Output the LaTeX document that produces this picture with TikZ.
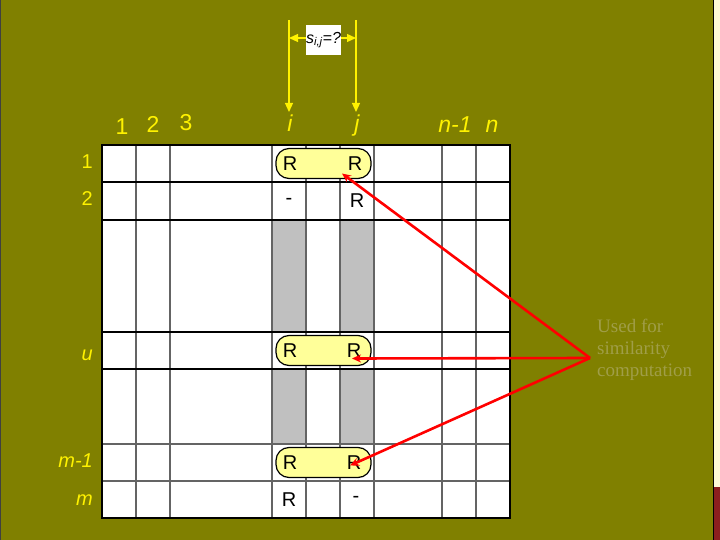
\documentclass[tikz,border=0pt]{standalone}
\usepackage{fontspec}
\setmainfont{Liberation Serif}
\newfontfamily\arial{Liberation Sans}
\usetikzlibrary{arrows.meta}
\definecolor{olivebg}{RGB}{128,128,0}
\definecolor{lightstrip}{RGB}{255,251,214}
\definecolor{darkred}{RGB}{140,30,30}
\definecolor{grayfill}{RGB}{192,192,192}
\definecolor{hlyellow}{RGB}{255,255,153}
\definecolor{dimtext}{RGB}{160,158,72}
\definecolor{gridgray}{RGB}{100,100,100}
\tikzset{
  toplab/.style={text=yellow, font=\arial\fontsize{23}{23}\selectfont, anchor=base, inner sep=0},
  leftlab/.style={text=yellow, font=\arial\fontsize{20}{20}\selectfont, anchor=base east, inner sep=0},
  cell/.style={text=black, font=\arial\fontsize{20}{20}\selectfont, inner sep=0},
  hlbox/.style={draw=black, line width=1.2pt, fill=hlyellow, rounded corners=13pt, minimum width=95pt, minimum height=30pt, inner sep=0},
  redarrow/.style={draw=red, line width=2.6pt, -{Stealth[length=9pt,width=8pt]}},
  yelarrow/.style={draw=yellow, line width=1.2pt, -{Triangle[length=9pt,width=8pt]}},
  blackline/.style={draw=black, line width=1.4pt},
  grayline/.style={draw=gridgray, line width=1.3pt},
}
\begin{document}
\begin{tikzpicture}[x=1pt,y=-1pt]
\useasboundingbox (0,0) rectangle (720,540);
% background
\fill[olivebg] (0,0) rectangle (713,540);
\fill[lightstrip] (713,0) rectangle (720,540);
\fill[darkred] (713,487) rectangle (720,540);
\draw[black, line width=1.5pt] (713.5,0) -- (713.5,540);
\draw[black!75, line width=1pt] (0.5,0) -- (0.5,540);
% grid
\fill[white] (102,145) rectangle (510,518);
\foreach \ya/\yb in {220/332, 369/444} {
  \fill[grayfill] (272,\ya) rectangle (306,\yb);
  \fill[grayfill] (340,\ya) rectangle (374,\yb);
}
\foreach \x in {136,170,272,306,340,374,442,476} {
  \draw[grayline] (\x,145) -- (\x,518);
}
\foreach \y in {182,220,332,369} {
  \draw[blackline] (102,\y) -- (510,\y);
}
\foreach \y in {444,481} {
  \draw[grayline] (102,\y) -- (510,\y);
}
\draw[draw=black, line width=1.6pt] (102,145) rectangle (510,518);
% highlight boxes
\node[hlbox] (hl1) at (323.5,163.5) {};
\node[hlbox] (hlu) at (323.5,350.5) {};
\node[hlbox] (hlm) at (323.5,462.5) {};
% cell texts
\node[cell] (r1i) at (290,163.5) {R};
\node[cell] (r1j) at (355,163.5) {R};
\node[cell] (r2i) at (289,201) {-};
\node[cell] (r2j) at (357,201) {R};
\node[cell] (rui) at (290,350.5) {R};
\node[cell] (ruj) at (354,350.5) {R};
\node[cell] (rmi) at (290,462.5) {R};
\node[cell] (rmj) at (354,462.5) {R};
\node[cell] (rzi) at (289,499.5) {R};
\node[cell] (rzj) at (356,499.5) {-};
% top labels
\node[toplab] (c1) at (122,135) {1};
\node[toplab] (c2) at (153,133) {2};
\node[toplab] (c3) at (186,131) {3};
\node[toplab] (ci) at (290,132) {\itshape i};
\node[toplab] (cj) at (357,132) {\itshape j};
\node[toplab] (cn1) at (455,133) {\itshape n-1};
\node[toplab] (cn) at (492,133) {\itshape n};
% left labels
\node[leftlab] (l1) at (93,169) {1};
\node[leftlab] (l2) at (93,206) {2};
\node[leftlab] (lu) at (93,360) {\itshape u};
\node[leftlab] (lm1) at (93,467) {\itshape m-1};
\node[leftlab] (lm) at (93,505) {\itshape m};
% yellow arrows and s box
\coordinate (ti) at (289,20);
\coordinate (bi) at (289,112);
\coordinate (tj) at (356,20);
\coordinate (bj) at (356,112);
\draw[yelarrow] (ti) -- (bi);
\draw[yelarrow] (tj) -- (bj);
\node[fill=white, minimum width=35pt, minimum height=30pt, inner sep=0, font=\arial\fontsize{16}{16}\selectfont] (sbox) at (323.5,40) {\itshape s\textsubscript{i,j}=?};
\coordinate (hi) at (289,38);
\coordinate (hj) at (356,38);
\draw[yelarrow] (sbox.west |- hi) -- (hi);
\draw[yelarrow] (sbox.east |- hj) -- (hj);
% red arrows
\coordinate (src) at (590,358);
\draw[redarrow] (src) -- ([xshift=-13pt,yshift=-10pt]r1j.center);
\draw[redarrow] (src) -- ([xshift=-2pt,yshift=-8pt]ruj.center);
\draw[redarrow] (src) -- ([xshift=-4pt,yshift=-3pt]rmj.center);
% side text
\node[anchor=base west, align=left, inner sep=0, text=dimtext, font=\fontsize{19}{22}\selectfont] (used) at (597,376) {Used for\\similarity\\computation};
\end{tikzpicture}
\end{document}
